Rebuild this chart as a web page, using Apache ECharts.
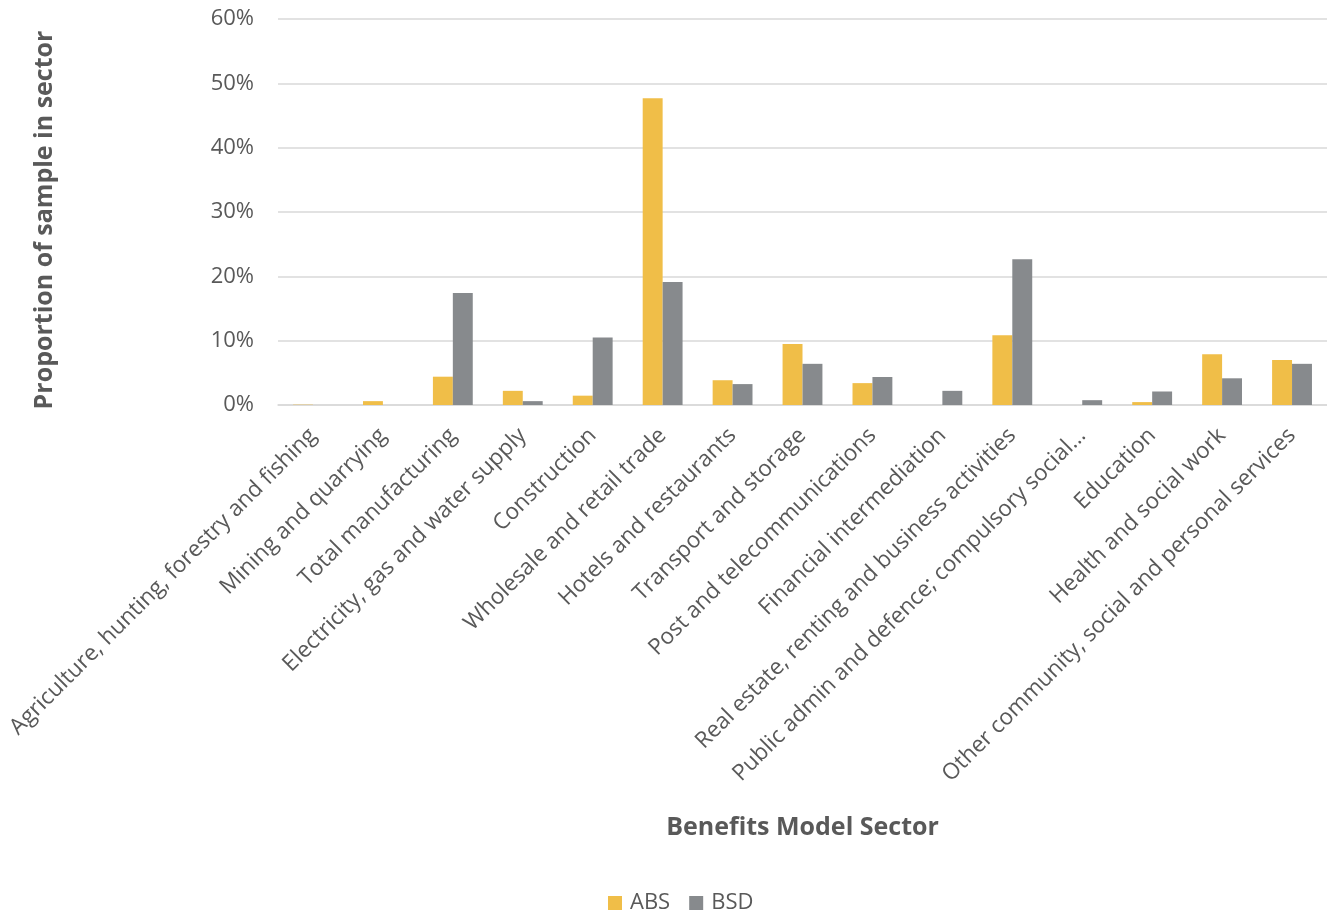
<!DOCTYPE html>
<html>
<head>
<meta charset="utf-8">
<script src="https://cdn.jsdelivr.net/npm/echarts@6/dist/echarts.min.js"></script>
<style>
  html, body { margin: 0; padding: 0; background: #ffffff; }
  #chart { width: 1327px; height: 912px; }
</style>
</head>
<body>
<div id="chart"></div>
<script>
// Sector categories on the x axis
const sectors = [
  'Agriculture, hunting, forestry and fishing',
  'Mining and quarrying',
  'Total manufacturing',
  'Electricity, gas and water supply',
  'Construction',
  'Wholesale and retail trade',
  'Hotels and restaurants',
  'Transport and storage',
  'Post and telecommunications',
  'Financial intermediation',
  'Real estate, renting and business activities',
  'Public admin and defence; compulsory social...',
  'Education',
  'Health and social work',
  'Other community, social and personal services'
];

// Share of each sample in every sector (%)
const absShare = [0.05, 0.6, 4.4, 2.2, 1.45, 47.7, 3.85, 9.5, 3.4, 0, 10.85, 0, 0.45, 7.9, 7.0];
const bsdShare = [0, 0, 17.4, 0.6, 10.5, 19.1, 3.25, 6.4, 4.35, 2.2, 22.65, 0.75, 2.1, 4.15, 6.4];

// Value axis ticks
const yTicks = [0, 10, 20, 30, 40, 50, 60];

const textGray = '#595959';
const fontFamily = '"Open Sans", "Noto Sans", sans-serif';

const chart = echarts.init(document.getElementById('chart'), null, { renderer: 'canvas' });

chart.setOption({
  animation: false,
  textStyle: { fontFamily: fontFamily, color: textGray },
  grid: { left: 278, right: 0, top: 19, bottom: 507, containLabel: false },
  legend: {
    top: 887,
    left: 603,
    itemWidth: 14,
    itemHeight: 14,
    itemGap: 19,
    icon: 'rect',
    textStyle: { fontSize: 22, color: textGray, fontFamily: fontFamily, padding: [0, 0, 0, 3] },
    data: ['ABS', 'BSD']
  },
  xAxis: {
    type: 'category',
    data: sectors,
    name: 'Benefits Model Sector',
    nameLocation: 'middle',
    nameGap: 410,
    nameTextStyle: { fontSize: 25, fontWeight: 'bold', color: textGray, fontFamily: fontFamily },
    axisLine: { show: true, lineStyle: { color: '#d9d9d9', width: 1.5 } },
    axisTick: { show: false },
    axisLabel: {
      rotate: 45,
      interval: 0,
      margin: 27,
      fontSize: 22.5,
      color: textGray,
      fontFamily: fontFamily
    }
  },
  yAxis: {
    type: 'value',
    min: yTicks[0],
    max: yTicks[yTicks.length - 1],
    interval: yTicks[1] - yTicks[0],
    name: 'Proportion of sample in sector',
    nameLocation: 'middle',
    nameRotate: 90,
    nameGap: 221,
    nameTextStyle: {
      fontSize: 25,
      fontWeight: 'bold',
      color: textGray,
      fontFamily: fontFamily,
      padding: [0, 16, 0, 0]
    },
    axisLine: { show: false },
    axisTick: { show: false },
    splitLine: { lineStyle: { color: '#d9d9d9', width: 1.5 } },
    axisLabel: {
      formatter: '{value}%',
      fontSize: 22,
      margin: 24,
      color: textGray,
      fontFamily: fontFamily
    }
  },
  series: [
    {
      name: 'ABS',
      type: 'bar',
      data: absShare,
      barGap: '0%',
      barCategoryGap: '43%',
      itemStyle: { color: '#f0be48' }
    },
    {
      name: 'BSD',
      type: 'bar',
      data: bsdShare,
      barGap: '0%',
      barCategoryGap: '43%',
      itemStyle: { color: '#878a8d' }
    }
  ]
});
</script>
</body>
</html>
